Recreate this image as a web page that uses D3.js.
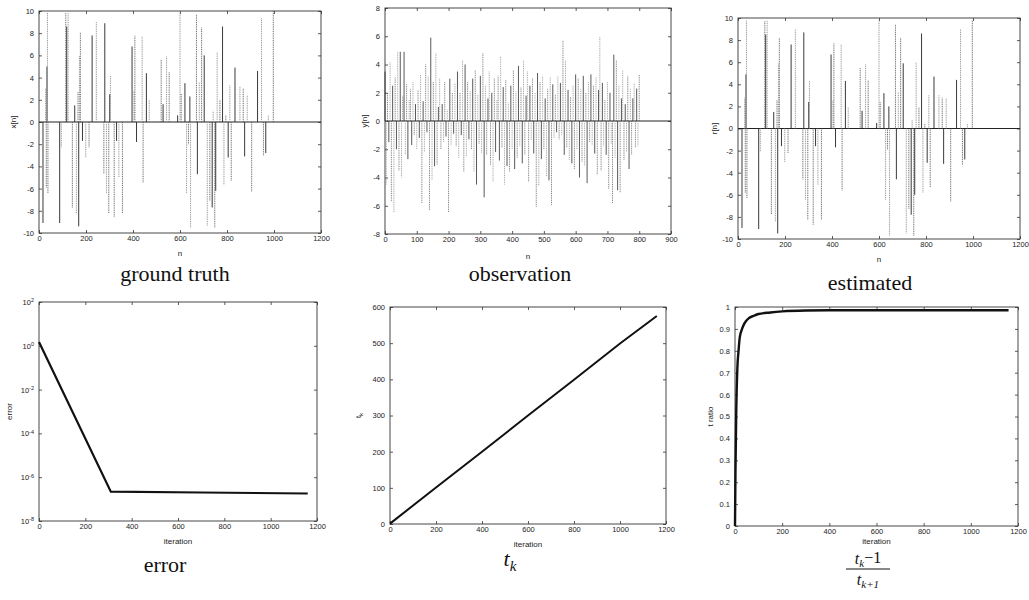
<!DOCTYPE html>
<html>
<head>
<meta charset="utf-8">
<script src="https://cdn.jsdelivr.net/npm/d3@7"></script>
<style>
  body { margin: 0; background: #fff; }
  svg { display: block; }
  .tick text { font-family: "Liberation Sans", Arial, sans-serif; font-size: 7.5px; fill: #222; }
  .lab { font-family: "Liberation Sans", Arial, sans-serif; font-size: 8px; fill: #222; }
  .cap { font-family: "Liberation Serif", "DejaVu Serif", serif; font-size: 22px; fill: #111; }
</style>
</head>
<body>
<svg id="fig" width="1029" height="600"></svg>
<script>
// ground truth sparse signal x[n]
const gtN = [17,28,31,34,36,38,88,95,114,118,124,142,152,159,166,169,172,176,185,199,213,226,244,276,280,287,297,301,304,320,330,340,355,396,404,408,415,439,443,457,469,520,528,543,554,590,600,605,621,628,636,642,645,670,674,682,692,703,716,727,737,741,748,752,758,770,781,787,795,805,812,818,834,855,869,875,886,905,930,947,955,965,976,997];
const gtV = [-9.1,3.0,-5.9,5.0,9.9,-6.4,-9.1,-2.3,9.8,8.6,9.8,-7.7,1.5,-8.3,2.7,-9.4,6.0,8.1,-1.7,-3.2,-2.3,7.8,9.0,-4.7,8.9,-6.4,-8.2,2.5,4.2,-8.6,-1.7,-5.0,-8.2,6.8,2.8,7.8,-1.8,7.7,-5.5,4.4,2.0,5.6,1.6,5.9,4.5,0.6,10.0,2.6,3.5,-6.4,-2.0,2.3,-9.5,9.7,-4.7,3.6,8.5,6.0,-9.4,-7.1,-7.7,1.0,-9.5,-6.2,6.3,2.0,8.6,-5.7,0.6,-3.2,3.3,-5.3,4.9,3.2,3.0,-3.1,2.4,-6.3,4.6,9.4,-3.0,-2.8,0.6,10.0];

// estimated signal r[n]
const estN = [17,28,31,34,36,38,88,95,114,118,124,142,152,159,166,169,172,176,185,199,213,226,244,276,280,287,297,301,304,320,330,340,355,396,404,408,415,439,443,457,469,520,528,543,554,590,600,605,621,628,636,642,645,670,674,682,692,703,716,727,737,741,748,752,758,770,781,787,795,805,812,818,834,855,869,875,886,905,930,947,955,965,976,997];
const estV = [-9.0,2.8,-5.8,4.9,9.8,-6.3,-9.1,-2.1,9.7,8.5,9.8,-7.8,1.5,-8.4,2.6,-9.5,5.9,8.2,-1.6,-3.1,-2.2,7.6,9.0,-4.6,8.7,-6.5,-8.3,2.4,4.3,-8.7,-1.6,-5.1,-8.3,6.7,2.6,7.7,-1.7,7.6,-5.6,4.3,1.9,5.5,1.6,5.8,4.4,0.5,9.8,2.4,3.2,-6.5,-1.9,2.0,-9.7,9.4,-4.6,3.3,8.2,5.9,-9.5,-7.3,-7.8,0.8,-9.7,-6.0,6.0,1.9,8.6,-5.8,0.4,-3.1,3.0,-5.3,4.7,3.0,2.8,-3.2,2.7,-6.6,4.4,9.0,-3.3,-2.8,0.4,9.8];

// noisy observation y[n], one sample every 4 steps from n = 0 to 800
const obsStep = 4;
const obsV = [3.5,-4.5,2.0,-1.5,4.2,-5.7,2.5,-6.5,3.1,-2.0,4.9,-3.5,4.9,-4.0,1.8,4.9,-2.4,2.6,-2.7,1.5,
  2.3,-1.7,2.8,-1.0,1.2,-2.0,2.2,-1.2,3.3,-5.8,1.4,-2.2,4.0,-0.8,3.2,-6.3,5.9,-4.2,2.8,-3.2,
  4.8,-3.1,1.0,3.0,-2.0,1.2,-1.5,2.8,-1.1,0.8,-6.5,3.0,-1.7,2.0,-0.9,2.7,-1.8,3.5,-2.6,2.0,
  -1.0,4.3,-3.6,4.0,-2.5,2.8,-1.3,2.1,-2.0,3.0,-3.6,3.6,-4.5,1.9,-1.6,3.2,-2.3,4.8,-5.4,2.5,
  -2.4,1.6,3.5,-3.1,2.0,-4.3,3.0,-2.2,1.5,3.2,-2.8,4.6,-1.9,2.4,-4.5,2.9,-3.2,1.3,-3.6,2.5,
  -2.0,3.6,-3.4,2.1,-2.6,3.9,-1.8,2.4,-3.0,4.3,-2.4,1.8,3.5,-4.3,2.5,-1.4,3.0,-2.3,2.0,-6.1,
  3.4,-4.6,2.8,-2.7,3.2,-2.0,1.6,-3.9,2.3,-4.2,3.1,-6.0,2.6,-1.2,1.9,-0.8,3.2,-1.3,2.7,-1.0,
  5.7,-2.4,4.3,-1.9,2.2,-2.8,1.7,-3.0,2.5,-3.4,3.3,-2.0,3.0,-4.0,2.3,-2.9,3.2,-3.2,2.0,-4.4,
  2.8,-1.5,3.3,-1.7,2.5,-2.3,3.1,-3.8,2.2,6.0,-3.5,2.7,-1.8,1.5,-2.4,2.8,-4.8,2.0,-1.6,-5.8,
  4.7,-2.6,4.3,-4.9,2.5,-5.1,1.6,3.6,-2.8,1.2,-2.2,3.2,-3.4,2.3,-2.4,1.6,2.7,-1.9,2.3,-1.8,3.3];

// reconstruction error per iteration
const errIter = [0, 310, 700, 1160];
const errVal = [1.5, 2.2e-7, 2.0e-7, 1.8e-7];

// momentum sequence t_k
const tkIter = [0, 200, 400, 600, 800, 1000, 1160];
const tkVal = [1, 101, 200, 300, 399, 499, 575];

// ratio (t_k - 1) / t_{k+1}
const trIter = [0, 2, 5, 10, 15, 20, 30, 40, 60, 80, 100, 150, 200, 300, 400, 600, 800, 1000, 1160];
const trVal = [0, 0.25, 0.5, 0.72, 0.8, 0.86, 0.9, 0.925, 0.95, 0.96, 0.968, 0.975, 0.98, 0.984, 0.985, 0.985, 0.985, 0.985, 0.985];

// tick labels
const nTicks1200 = [0, 200, 400, 600, 800, 1000, 1200];
const nTicks900 = [0, 100, 200, 300, 400, 500, 600, 700, 800, 900];
const ampTicks10 = [-10, -8, -6, -4, -2, 0, 2, 4, 6, 8, 10];
const ampTicks8 = [-8, -6, -4, -2, 0, 2, 4, 6, 8];
const errExp = [-8, -6, -4, -2, 0, 2];
const tkTicks = [0, 100, 200, 300, 400, 500, 600];
const trTicks = [0, 0.1, 0.2, 0.3, 0.4, 0.5, 0.6, 0.7, 0.8, 0.9, 1];

const svg = d3.select("#fig");

// draws a boxed axes with inward ticks on all four sides
function makeAxes(box, xDom, yDom, xTicks, yTicks, opts = {}) {
  const x = d3.scaleLinear().domain(xDom).range([box.l, box.r]);
  const y = (opts.log ? d3.scaleLog() : d3.scaleLinear()).domain(yDom).range([box.b, box.t]);
  const g = svg.append("g");
  const tl = 3;
  const xa = g.append("g").attr("transform", `translate(0,${box.b})`)
    .call(d3.axisBottom(x).tickValues(xTicks).tickSize(-tl).tickPadding(3).tickFormat(d3.format("d")));
  g.append("g").attr("transform", `translate(0,${box.t})`)
    .call(d3.axisTop(x).tickValues(xTicks).tickSize(-tl).tickFormat(""));
  const ya = g.append("g").attr("transform", `translate(${box.l},0)`)
    .call(d3.axisLeft(y).tickValues(yTicks).tickSize(-tl).tickPadding(5)
      .tickFormat(opts.yFormat || (d => String(d))));
  g.append("g").attr("transform", `translate(${box.r},0)`)
    .call(d3.axisRight(y).tickValues(yTicks).tickSize(-tl).tickFormat(""));
  g.selectAll(".domain").remove();
  g.selectAll(".tick line").attr("stroke", "#333").attr("stroke-width", 0.8);
  g.append("rect").attr("x", box.l).attr("y", box.t)
    .attr("width", box.r - box.l).attr("height", box.b - box.t)
    .attr("fill", "none").attr("stroke", "#333").attr("stroke-width", 0.9);
  if (opts.log) {
    ya.selectAll(".tick text").each(function(d) {
      const t = d3.select(this).text("");
      t.append("tspan").text("10");
      t.append("tspan").attr("dy", "-0.45em").style("font-size", "5.5px").text(Math.round(Math.log10(d)));
    });
  }
  return { x, y, g, xa, ya };
}

function axisLabels(box, xl, yl, yx, xy) {
  svg.append("text").attr("class", "lab").attr("text-anchor", "middle")
    .attr("x", (box.l + box.r) / 2).attr("y", xy).text(xl);
  const t = svg.append("text").attr("class", "lab").attr("text-anchor", "middle")
    .attr("transform", `translate(${yx},${(box.t + box.b) / 2}) rotate(-90)`);
  if (typeof yl === "string") t.text(yl);
  else { t.append("tspan").text(yl[0]); t.append("tspan").attr("dy", "0.3em").style("font-size", "6px").text(yl[1]); }
}

function stems(ax, ns, vs, dom, w) {
  const g = ax.g.append("g");
  g.append("line").attr("x1", ax.x(dom[0])).attr("x2", ax.x(dom[1]))
    .attr("y1", ax.y(0)).attr("y2", ax.y(0)).attr("stroke", "#222").attr("stroke-width", 1);
  g.selectAll("line.stem").data(ns).join("line").attr("class", "stem")
    .attr("x1", d => ax.x(d)).attr("x2", d => ax.x(d))
    .attr("y1", ax.y(0)).attr("y2", (d, i) => ax.y(vs[i]))
    .attr("stroke", (d, i) => (i % 3 === 0 ? "#222" : (i % 3 === 1 ? "#888" : "#555")))
    .attr("stroke-width", w)
    .attr("stroke-dasharray", (d, i) => (i % 3 === 0 ? null : "1,0.8"));
}

function caption(x, y, text) {
  svg.append("text").attr("class", "cap").attr("text-anchor", "middle").attr("x", x).attr("y", y).text(text);
}

// --- ground truth
const b1 = { l: 39, r: 321, t: 11, b: 233 };
const a1 = makeAxes(b1, [0, 1200], [-10, 10], nTicks1200, ampTicks10);
stems(a1, gtN, gtV, [0, 1200], 0.9);
axisLabels(b1, "n", "x[n]", 16, 256);
caption(175, 281, "ground truth");

// --- observation
const b2 = { l: 385, r: 671, t: 8, b: 234 };
const a2 = makeAxes(b2, [0, 900], [-8, 8], nTicks900, ampTicks8);
const obsN = obsV.map((v, i) => i * obsStep);
stems(a2, obsN, obsV, [0, 900], 0.75);
axisLabels(b2, "n", "y[n]", 367, 259);
caption(520, 281, "observation");

// --- estimated
const b3 = { l: 738, r: 1020, t: 18, b: 239 };
const a3 = makeAxes(b3, [0, 1200], [-10, 10], nTicks1200, ampTicks10);
stems(a3, estN, estV, [0, 1200], 0.9);
axisLabels(b3, "n", "r[n]", 717, 262);
caption(870, 290, "estimated");

// --- error (log scale)
const b4 = { l: 39, r: 317, t: 302, b: 521 };
const a4 = makeAxes(b4, [0, 1200], [1e-8, 1e2], nTicks1200, errExp.map(e => Math.pow(10, e)), { log: true });
a4.g.append("path").datum(errIter.map((k, i) => [k, errVal[i]]))
  .attr("fill", "none").attr("stroke", "#111").attr("stroke-width", 2.2)
  .attr("d", d3.line().x(d => a4.x(d[0])).y(d => a4.y(d[1])));
axisLabels(b4, "iteration", "error", 12, 544);
caption(165, 572, "error");

// --- t_k
const b5 = { l: 390, r: 666, t: 307, b: 524 };
const a5 = makeAxes(b5, [0, 1200], [0, 600], nTicks1200, tkTicks);
a5.g.append("path").datum(tkIter.map((k, i) => [k, tkVal[i]]))
  .attr("fill", "none").attr("stroke", "#111").attr("stroke-width", 2)
  .attr("d", d3.line().x(d => a5.x(d[0])).y(d => a5.y(d[1])));
axisLabels(b5, "iteration", ["t", "k"], 361, 547);
const tkCap = svg.append("text").attr("class", "cap").attr("text-anchor", "middle")
  .attr("x", 510).attr("y", 566).style("font-style", "italic");
tkCap.append("tspan").text("t");
tkCap.append("tspan").attr("dy", "0.3em").style("font-size", "15px").text("k");

// --- t ratio
const b6 = { l: 735, r: 1018, t: 307, b: 526 };
const a6 = makeAxes(b6, [0, 1200], [0, 1], nTicks1200, trTicks, { yFormat: d3.format("~g") });
a6.g.append("path").datum(trIter.map((k, i) => [k, trVal[i]]))
  .attr("fill", "none").attr("stroke", "#111").attr("stroke-width", 2.4)
  .attr("d", d3.line().curve(d3.curveMonotoneX).x(d => a6.x(d[0])).y(d => a6.y(d[1])));
axisLabels(b6, "iteration", "t ratio", 713, 544);

// fraction caption (t_k - 1) / t_{k+1}
const fx = 868;
const num = svg.append("text").attr("class", "cap").attr("text-anchor", "middle")
  .attr("x", fx).attr("y", 564).style("font-size", "16px");
num.append("tspan").style("font-style", "italic").text("t");
num.append("tspan").style("font-style", "italic").attr("dy", "0.25em").style("font-size", "11px").text("k");
num.append("tspan").attr("dy", "-0.25em").text("\u22121");
svg.append("line").attr("x1", fx - 22).attr("x2", fx + 22).attr("y1", 569).attr("y2", 569)
  .attr("stroke", "#111").attr("stroke-width", 1);
const den = svg.append("text").attr("class", "cap").attr("text-anchor", "middle")
  .attr("x", fx).attr("y", 585).style("font-size", "16px");
den.append("tspan").style("font-style", "italic").text("t");
den.append("tspan").style("font-style", "italic").attr("dy", "0.25em").style("font-size", "11px").text("k+1");
</script>
</body>
</html>
